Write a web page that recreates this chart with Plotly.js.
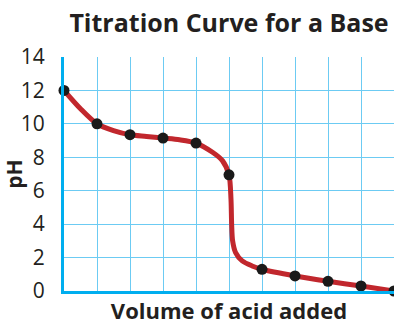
<!DOCTYPE html>
<html>
<head>
<meta charset="utf-8">
<script src="https://cdn.plot.ly/plotly-3.0.1.min.js"></script>
<style>html,body{margin:0;padding:0;background:#fff;}#chart{width:394px;height:325px;}</style>
</head>
<body>
<div id="chart"></div>
<script>
// Measured points (volume of acid in grid units, pH)
var volume = [0, 1, 2, 3, 4, 5, 6, 7, 8, 9, 10];
var pH = [12, 10, 9.35, 9.15, 8.85, 6.95, 1.3, 0.9, 0.58, 0.3, 0.0];

// Curve
var curveX = [0, 0.5, 1, 1.5, 2, 2.5, 3, 3.5, 4, 4.5, 4.8, 5, 5.06, 5.08, 5.11, 5.2, 5.4, 5.7, 6, 7, 8, 9, 10];
var curveY = [12, 10.9, 10, 9.6, 9.35, 9.25, 9.15, 9.05, 8.85, 8.3, 7.8, 6.95, 5.5, 4, 3, 2.3, 1.8, 1.5, 1.3, 0.9, 0.58, 0.3, 0];

var yTicks = [0, 2, 4, 6, 8, 10, 12, 14];

var font = "'Open Sans', 'Noto Sans', sans-serif";
var ink = '#231f20';
var grid = '#6ccbf3';
var axisBlue = '#00aeef';

var traces = [
  {
    x: curveX, y: curveY, type: 'scatter', mode: 'lines',
    line: {color: '#c1272d', width: 5, shape: 'spline', smoothing: 0.8},
    hoverinfo: 'skip', cliponaxis: false
  },
  {
    x: volume, y: pH, type: 'scatter', mode: 'markers',
    marker: {color: '#1a1a1a', size: 11},
    cliponaxis: false
  }
];

var layout = {
  width: 394, height: 325,
  margin: {l: 64, r: 0, t: 57, b: 34},
  paper_bgcolor: '#ffffff', plot_bgcolor: '#ffffff',
  showlegend: false,
  font: {family: font, color: ink},
  title: {
    text: '<b>Titration Curve for a Base</b>',
    font: {family: font, size: 25, color: ink},
    x: 0.5, xref: 'paper', y: 0.93, yref: 'container', yanchor: 'middle'
  },
  xaxis: {
    range: [0, 10], dtick: 1, tick0: 0,
    showticklabels: false, ticks: '',
    showgrid: true, gridcolor: grid, gridwidth: 1,
    zeroline: false,
    showline: true, linecolor: axisBlue, linewidth: 3,
    fixedrange: true,
    title: {text: '<b>Volume of acid added</b>', font: {family: font, size: 22, color: ink}, standoff: 15}
  },
  yaxis: {
    range: [0, 14], tickvals: yTicks, ticktext: yTicks.map(String),
    ticks: '', ticklabelstandoff: 12,
    tickfont: {family: font, size: 21, color: ink},
    showgrid: true, gridcolor: grid, gridwidth: 1,
    zeroline: false,
    showline: true, linecolor: axisBlue, linewidth: 3,
    fixedrange: true,
    title: {text: '<b>pH</b>', font: {family: font, size: 21, color: ink}, standoff: 2}
  }
};

Plotly.newPlot('chart', traces, layout, {displayModeBar: false, staticPlot: true});
</script>
</body>
</html>
